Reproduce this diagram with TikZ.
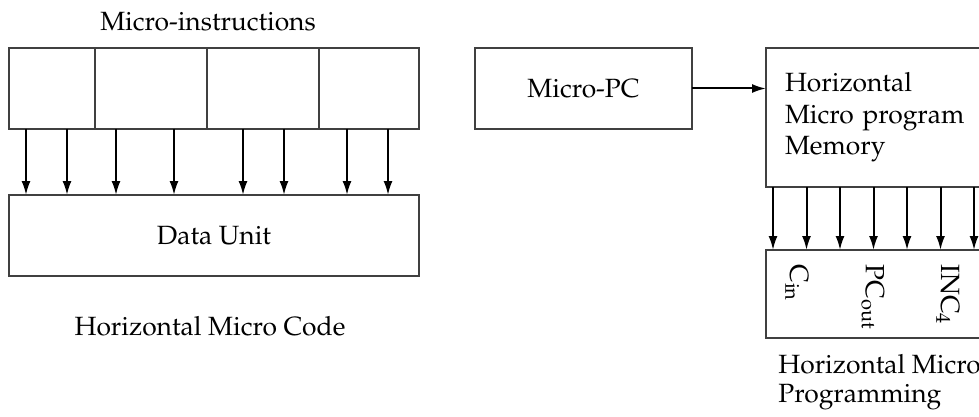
\documentclass[tikz,border=0pt]{standalone}
\usepackage[T1]{fontenc}
\usepackage{mathpazo}
\usepackage{tikz}
\usetikzlibrary{
  arrows.meta,
  positioning,
  calc
}
\tikzset{
  regbox/.style={
    draw=black!75,
    line width=0.7pt,
    outer sep=0pt,
    inner sep=0pt,
    align=center,
    font=\fontsize{13.2}{15.5}\selectfont
  },
  sigarrow/.style={
    -{Latex[length=7pt,width=4.5pt]},
    line width=1pt,
    black
  },
  caplabel/.style={font=\fontsize{13.2}{14.5}\selectfont, inner sep=0pt, align=left}
}

\begin{document}
\begin{tikzpicture}[x=0.5pt, y=-0.5pt]
  \useasboundingbox (0,0) rectangle (979,417);

  % horizontal micro code
  \node[caplabel] (title) at (208,22) {Micro-instructions};
  \node[regbox, minimum width=43pt, minimum height=40.5pt, anchor=north west] (c1) at (9,48) {};
  \node[regbox, minimum width=56pt, minimum height=40.5pt, right=0pt of c1] (c2) {};
  \node[regbox, minimum width=56pt, minimum height=40.5pt, right=0pt of c2] (c3) {};
  \node[regbox, minimum width=50pt, minimum height=40.5pt, right=0pt of c3] (c4) {};
  \node[regbox, minimum width=205pt, minimum height=40.5pt, anchor=north west] (data) at (9,195) {Data Unit};
  \foreach \dx in {17,58,107,165,234,275,338,379}
    \draw[sigarrow] ($(c1.south west)+(\dx,0)$) -- ($(data.north west)+(\dx,0)$);
  \node[caplabel] (hmc) at (210,326) {Horizontal Micro Code};

  % horizontal micro programming
  \node[regbox, minimum width=108.5pt, minimum height=40.5pt, anchor=north west] (pc) at (475,48) {Micro-PC};
  \node[regbox, minimum width=112pt, minimum height=69.5pt, text width=93pt, inner xsep=9.5pt,
    font=\fontsize{13.2}{15.8}\selectfont, align=left, anchor=north west] (mem) at (766,48)
    {Horizontal\\Micro program\\Memory};
  \draw[sigarrow] (pc.east) -- (pc.east -| mem.west);
  \node[regbox, minimum width=112pt, minimum height=44pt, anchor=north west] (ctrl) at (766,250) {};
  \foreach \dx in {7,40.5,74,107.5,141,174.5,208}
    \draw[sigarrow] ($(mem.south west)+(\dx,0)$) -- ($(ctrl.north west)+(\dx,0)$);
  \node[caplabel, rotate=-90, anchor=west] (cin) at ($(ctrl.north west)+(31,14)$) {$\mathrm{C_{in}}$};
  \node[caplabel, rotate=-90, anchor=west] (pcout) at ($(ctrl.north west)+(107,14)$) {$\mathrm{PC_{out}}$};
  \node[caplabel, rotate=-90, anchor=west] (inc) at ($(ctrl.north west)+(182,14)$) {$\mathrm{INC_{4}}$};
  \node[caplabel, anchor=north west] (hmp) at (778,354) {Horizontal Micro\\Programming};
\end{tikzpicture}
\end{document}
